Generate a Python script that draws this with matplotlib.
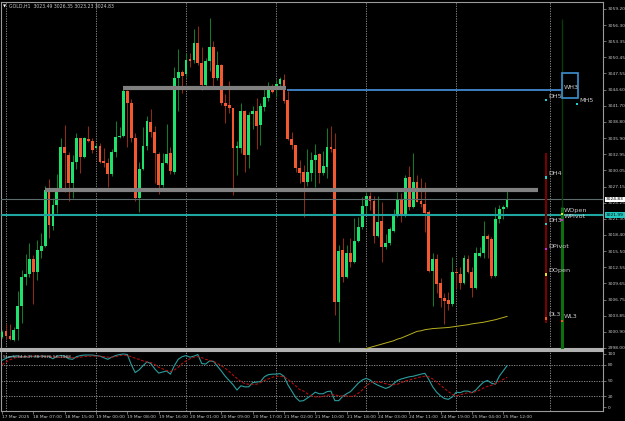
"""Recreate an MT4-style GOLD H1 candlestick chart with a Stochastic subpanel."""

import numpy as np
import matplotlib
matplotlib.use("Agg")
import matplotlib.pyplot as plt
import matplotlib.transforms as mtransforms
from matplotlib.patches import Rectangle

# --- Candle data (H1 bars, 17 Mar 22:00 .. 25 Mar 13:00) ---
opens = [
    3000.00, 3001.03, 3000.18, 2999.52, 3001.51, 3005.54, 3010.84, 3011.32, 3014.15, 3011.74,
    3015.54, 3016.38, 3026.62, 3020.06, 3023.90, 3026.80, 3034.20, 3032.81, 3027.82, 3031.62,
    3035.83, 3032.51, 3035.70, 3035.40, 3034.02, 3034.44, 3031.80, 3031.32, 3029.33, 3033.42,
    3036.07, 3036.25, 3044.44, 3042.15, 3035.83, 3025.11, 3030.23, 3034.44, 3038.84, 3037.03,
    3033.00, 3027.40, 3031.32, 3033.12, 3029.81, 3046.67, 3047.87, 3047.45, 3050.10, 3049.98,
    3053.11, 3049.50, 3045.46, 3049.80, 3052.33, 3046.79, 3049.08, 3042.15, 3041.79, 3041.37,
    3034.14, 3034.14, 3040.77, 3032.76, 3040.23, 3040.77, 3038.24, 3041.55, 3043.18, 3044.86,
    3044.74, 3045.65, 3046.37, 3042.75, 3035.77, 3034.57, 3030.47, 3029.75, 3027.95, 3029.63,
    3031.92, 3032.94, 3029.51, 3030.71, 3034.27, 3033.85, 3006.27, 3015.66, 3010.84, 3015.06,
    3013.56, 3017.35, 3019.76, 3023.61, 3025.48, 3024.57, 3018.19, 3020.84, 3016.14, 3016.87,
    3019.16, 3021.99, 3024.87, 3022.17, 3028.91, 3023.49, 3027.95, 3024.57, 3023.97, 3022.53,
    3011.93, 3013.98, 3009.77, 3006.94, 3006.64, 3005.85, 3011.75, 3011.27, 3009.77, 3014.04,
    3011.75, 3008.86, 3014.58, 3015.06, 3018.25, 3017.59, 3011.03, 3021.20, 3023.07, 3023.49,
]
highs = [
    3001.33, 3002.41, 3002.41, 3001.81, 3008.25, 3012.04, 3015.05, 3017.04, 3014.75, 3017.58,
    3018.79, 3027.22, 3028.43, 3024.99, 3029.39, 3035.83, 3038.24, 3033.42, 3032.81, 3036.85,
    3035.90, 3036.13, 3038.06, 3035.95, 3034.93, 3035.05, 3034.02, 3032.33, 3033.90, 3038.96,
    3037.94, 3044.74, 3044.50, 3042.87, 3036.85, 3031.62, 3037.94, 3039.87, 3041.13, 3038.06,
    3033.42, 3033.12, 3038.36, 3034.20, 3048.77, 3051.91, 3048.17, 3051.18, 3051.18, 3055.58,
    3056.12, 3052.27, 3050.28, 3057.50, 3053.47, 3051.60, 3049.20, 3043.84, 3046.19, 3041.40,
    3035.40, 3042.21, 3040.95, 3040.65, 3041.73, 3043.06, 3042.15, 3045.16, 3045.95, 3045.65,
    3046.37, 3046.85, 3047.45, 3044.44, 3036.97, 3034.63, 3031.92, 3031.02, 3033.96, 3033.30,
    3034.81, 3033.12, 3033.60, 3037.64, 3038.06, 3036.85, 3016.57, 3017.89, 3016.57, 3017.89,
    3021.38, 3021.69, 3025.30, 3026.20, 3026.20, 3025.42, 3025.42, 3024.39, 3018.56, 3019.76,
    3023.01, 3026.20, 3026.02, 3029.21, 3030.90, 3033.12, 3029.21, 3028.61, 3028.01, 3022.89,
    3015.06, 3014.88, 3010.55, 3007.84, 3008.14, 3014.34, 3012.35, 3012.66, 3014.76, 3014.76,
    3012.66, 3016.15, 3016.27, 3020.96, 3018.56, 3018.07, 3023.49, 3023.79, 3023.79, 3026.35,
]
lows = [
    2999.76, 2999.70, 2999.40, 2999.28, 2999.40, 3002.53, 3009.33, 3010.84, 3005.90, 3010.36,
    3014.33, 3016.14, 3017.88, 3019.28, 3022.41, 3026.50, 3026.20, 3024.51, 3024.99, 3030.23,
    3029.63, 3032.21, 3035.22, 3033.12, 3033.95, 3031.32, 3030.72, 3027.10, 3029.03, 3032.51,
    3035.83, 3036.13, 3034.33, 3035.22, 3024.57, 3022.59, 3030.11, 3033.72, 3036.13, 3027.71,
    3025.78, 3027.10, 3031.20, 3029.33, 3029.39, 3040.83, 3044.08, 3046.97, 3048.65, 3049.38,
    3049.08, 3044.56, 3045.28, 3047.99, 3045.16, 3046.37, 3041.85, 3038.54, 3040.47, 3025.54,
    3029.15, 3033.12, 3029.75, 3030.47, 3037.46, 3033.85, 3034.63, 3040.83, 3042.63, 3044.08,
    3043.36, 3045.16, 3042.15, 3035.53, 3033.85, 3029.81, 3027.71, 3021.56, 3027.22, 3028.13,
    3026.98, 3027.71, 3029.21, 3028.73, 3033.42, 3003.92, 2999.11, 3009.95, 3010.55, 3012.66,
    3013.26, 3017.05, 3019.46, 3021.99, 3022.89, 3016.87, 3018.07, 3013.56, 3015.78, 3016.57,
    3018.98, 3021.69, 3020.78, 3021.56, 3022.89, 3023.19, 3024.27, 3023.37, 3018.98, 3011.75,
    3005.61, 3007.84, 3005.43, 3002.30, 3004.83, 3005.55, 3008.74, 3008.56, 3009.53, 3011.45,
    3007.24, 3008.56, 3014.46, 3014.16, 3014.16, 3010.55, 3010.85, 3020.48, 3021.20, 3023.23,
]
closes = [
    3000.91, 3000.12, 2999.58, 3001.33, 3005.54, 3010.84, 3011.32, 3014.15, 3011.74, 3015.66,
    3016.38, 3026.50, 3020.18, 3023.90, 3026.80, 3034.20, 3033.12, 3027.82, 3031.50, 3035.83,
    3032.51, 3035.83, 3035.40, 3033.72, 3034.44, 3031.62, 3031.32, 3029.33, 3033.42, 3036.13,
    3036.25, 3044.44, 3042.27, 3035.83, 3024.99, 3030.23, 3034.44, 3038.96, 3037.03, 3033.24,
    3027.40, 3031.32, 3032.94, 3029.93, 3046.67, 3047.75, 3047.09, 3049.98, 3049.86, 3053.11,
    3049.38, 3045.46, 3049.80, 3052.33, 3046.79, 3049.08, 3042.15, 3041.67, 3041.25, 3034.14,
    3034.44, 3040.77, 3032.81, 3040.11, 3040.77, 3038.06, 3041.67, 3043.24, 3044.56, 3044.26,
    3045.65, 3046.49, 3042.63, 3035.77, 3034.57, 3030.41, 3029.63, 3028.01, 3029.75, 3031.92,
    3032.88, 3029.51, 3030.83, 3034.20, 3033.85, 3006.33, 3015.48, 3010.84, 3015.06, 3013.56,
    3017.35, 3019.76, 3023.61, 3025.48, 3024.57, 3018.19, 3020.72, 3016.14, 3016.87, 3019.46,
    3021.99, 3024.87, 3022.17, 3028.73, 3023.49, 3027.95, 3024.39, 3023.97, 3022.41, 3011.93,
    3013.98, 3009.53, 3006.94, 3006.52, 3005.85, 3011.75, 3011.45, 3009.77, 3014.16, 3011.75,
    3008.86, 3015.06, 3015.06, 3018.25, 3017.59, 3011.03, 3021.20, 3023.01, 3023.49, 3024.83,
]

# Moving average (starts at bar 93)
ma_start = 93
ma_values = [
    2997.9, 2998.1, 2998.3, 2998.5, 2998.7, 2998.9, 2999.1, 2999.3, 2999.6, 2999.8,
    3000.1, 3000.4, 3000.7, 3001.0, 3001.1, 3001.3, 3001.4, 3001.5, 3001.55, 3001.6,
    3001.65, 3001.7, 3001.8, 3001.9, 3002.0, 3002.1, 3002.2, 3002.35, 3002.45, 3002.55,
    3002.65, 3002.8, 3002.95, 3003.1, 3003.3, 3003.5, 3003.7,
]

# Stochastic(34,6,2)
stoch_main = [
    88, 92, 95, 96, 96, 95, 95, 96, 95, 95, 96, 95, 95, 91, 96, 97, 96, 91, 90, 95,
    97, 98, 98, 98, 97, 96, 93, 90, 94, 97, 99, 100, 99, 80, 65, 70, 78, 85, 82, 72,
    64, 66, 68, 62, 78, 90, 95, 97, 94, 96, 99, 82, 81, 87, 86, 77, 68, 58, 50, 42,
    32, 40, 38, 38, 46, 47, 48, 57, 61, 62, 62, 63, 58, 42, 30, 18, 11, 12, 17, 22,
    28, 25, 25, 29, 30, 12, 12, 20, 25, 29, 37, 45, 51, 54, 51, 45, 41, 38, 35, 38,
    44, 50, 53, 55, 57, 58, 60, 62, 63.5, 52, 38, 28, 21, 16, 14.5, 19, 28, 27, 30, 30,
    27, 32, 40, 47, 50, 45, 43, 58, 68, 78,
]
stoch_signal = [
    80, 85, 89, 92, 94, 95, 95, 95, 96, 96, 96, 95, 95, 95, 94, 94, 94, 94, 93, 93,
    94, 95, 96, 96, 96, 96, 95, 94, 94, 95, 97, 98, 97, 95, 92, 90, 87, 85, 84, 80,
    75, 72, 69, 67, 70, 75, 82, 87, 91, 94, 95, 93, 90, 88, 86, 82, 78, 73, 67, 60,
    54, 48, 44, 43, 43, 43, 46, 50, 53, 56, 58, 58, 57, 52, 46, 40, 33, 30, 25, 21,
    19, 19, 20, 22, 23, 23, 21, 21, 21, 20, 21, 26, 32, 40, 45, 48, 47, 46, 44, 42,
    42, 43, 46, 49, 51, 53, 55, 57, 58, 57, 53, 47, 41, 35, 29, 24, 21, 23, 25, 27,
    27, 29, 32, 36, 39, 41, 44, 48, 52, 56,
]

# Axis labels
price_ticks = [2998.00, 3000.90, 3003.85, 3006.75, 3009.65, 3012.55, 3015.50, 3018.40,
               3021.30, 3024.25, 3027.15, 3030.05, 3032.95, 3035.90, 3038.80, 3041.70,
               3044.60, 3047.55, 3050.45, 3053.35, 3056.30, 3059.20]
stoch_ticks = [0, 20, 50, 80, 100]
time_tick_bars = [0, 8, 16, 24, 32, 40, 48, 56, 64, 72, 80, 88, 96, 104, 112, 120, 128]
time_labels = ["17 Mar 2025", "18 Mar 07:00", "18 Mar 15:00", "19 Mar 00:00", "19 Mar 08:00",
               "19 Mar 16:00", "20 Mar 01:00", "20 Mar 09:00", "20 Mar 17:00", "21 Mar 02:00",
               "21 Mar 10:00", "21 Mar 18:00", "24 Mar 03:00", "24 Mar 11:00", "24 Mar 19:00",
               "25 Mar 04:00", "25 Mar 12:00"]
grid_bars = [1, 24, 47, 70, 93, 116, 140]

# Support/resistance zones (price, start bar, end bar)
zone_prices = [3044.95, 3026.58]
zone_start = [31, 11]
zone_end = [72.5, 137]
bid_price = 3024.83
week_open = 3021.99
wh3_price = 3044.6
wh3_start, wh3_end = 72.8, 143.0
wh3_box = (143.0, 3043.13, 147.2, 3047.64)

# Pivot labels
pivot_names = ["DH5", "MH5", "DH4", "WOpen", "WPivot", "DH3", "DPivot", "DOpen", "DL3", "WL3"]
pivot_text_x = [139.5, 147.5, 139.5, 143.6, 143.6, 139.5, 139.5, 139.5, 139.5, 143.6]
pivot_text_y = [3043.4, 3042.6, 3029.5, 3022.8, 3021.8, 3021.1, 3016.4, 3011.9, 3004.1, 3003.6]
pivot_dot_x = [139, 146.9, 139, 143, 143, 139, 139, 139, 139, 143]
pivot_dot_y = [3042.77, 3042.0, 3028.8, 3022.2, 3021.1, 3020.4, 3015.9, 3011.3, 3003.3, 3002.9]
pivot_dot_colors = ["#20d0d0", "#20d0d0", "#20d0d0", "#e8e020", "#e020e0", "#20d0d0",
                    "#e020e0", "#e8e020", "#ff5020", "#ff5020"]

# --- Styling ---
BULL = "#1de26c"
BEAR = "#f4582f"
WICK_UP = "#127a2a"
WICK_DN = "#8e2c12"
TXT = "#c8c8c8"
FRAME = "#9a9a9a"
GRID = "#9a9a9a"
AXFS = 3.2
W, H = 625, 421

fig = plt.figure(figsize=(W / 100, H / 100), dpi=100, facecolor="black")


def px_axes(x0, y0, x1, y1):
    return fig.add_axes([x0 / W, 1 - y1 / H, (x1 - x0) / W, (y1 - y0) / H], facecolor="black")


ax = px_axes(1.5, 1.7, 603, 348.7)
ax2 = px_axes(1.5, 351, 603, 410.7)

xlim = (-0.15, 153.5)

# --- Main panel ---
o, h, l, c = (np.array(a) for a in (opens, highs, lows, closes))
x = np.arange(len(o))
up = c >= o
body = np.maximum(np.abs(c - o), 0.12)
low_body = np.minimum(o, c)
ax.vlines(x[up], l[up], h[up], color=WICK_UP, lw=0.75, zorder=2)
ax.vlines(x[~up], l[~up], h[~up], color=WICK_DN, lw=0.75, zorder=2)
ax.bar(x[up], body[up], bottom=low_body[up], width=0.72, color=BULL, lw=0, zorder=3)
ax.bar(x[~up], body[~up], bottom=low_body[~up], width=0.72, color=BEAR, lw=0, zorder=3)

ax.plot(np.arange(ma_start, ma_start + len(ma_values)), ma_values, color="#b8b020", lw=0.7, zorder=4)

for g in grid_bars:
    ax.axvline(g, color=GRID, lw=0.6, ls=(0, (1.5, 1.5)), zorder=1)

for p, s, e in zip(zone_prices, zone_start, zone_end):
    ax.hlines(p, s, e, color="#808080", lw=3.0, zorder=5)

ax.axhline(bid_price, color="#5c6c6c", lw=0.8, zorder=4)
ax.axhline(week_open, color="#1fa6a0", lw=1.5, zorder=4)
ax.hlines(wh3_price, wh3_start, wh3_end, color="#3d7fc0", lw=1.4, zorder=4)
ax.add_patch(Rectangle((wh3_box[0], wh3_box[1]), wh3_box[2] - wh3_box[0], wh3_box[3] - wh3_box[1],
                       fill=False, ec="#3d8fd0", lw=1.2, zorder=6))
ax.text(143.6, 3045.1, "WH3", color=TXT, fontsize=4.6, va="center", ha="left", zorder=7)

# vertical pivot bars
ax.vlines(143.0, 3023.5, 3057.4, color="#0a3a0a", lw=1.0, zorder=4)
ax.vlines(143.0, 2997.9, 3023.5, color="#0a7010", lw=2.2, zorder=4)
ax.vlines(139.0, 3002.5, 3033.2, color="#7a0000", lw=1.5, zorder=4)

ax.scatter(pivot_dot_x, pivot_dot_y, s=3, marker="s", c=pivot_dot_colors, lw=0, zorder=8)
for name, tx, ty in zip(pivot_names, pivot_text_x, pivot_text_y):
    ax.text(tx, ty, name, color=TXT, fontsize=4.6, va="center", ha="left", zorder=7)

ax.set_xlim(*xlim)
ax.set_ylim(2997.87, 3060.51)
ax.set_xticks([])
ax.yaxis.tick_right()
ax.set_yticks(price_ticks)
ax.set_yticklabels([f"{t:.2f}" for t in price_ticks])
ax.tick_params(axis="y", colors=FRAME, labelcolor=TXT, labelsize=AXFS, length=2, width=0.5, pad=1.5)

# price boxes on the axis
trans = mtransforms.blended_transform_factory(ax.transAxes, ax.transData)
ax.text(1.005, bid_price, f"{bid_price:.2f}", transform=trans, fontsize=AXFS, color="black",
        va="center", ha="left", zorder=10,
        bbox=dict(fc="white", ec="none", pad=0.6), clip_on=False)
ax.text(1.005, week_open, f"{week_open:.2f}", transform=trans, fontsize=AXFS, color="black",
        va="center", ha="left", zorder=10,
        bbox=dict(fc="#20c8c0", ec="none", pad=0.6), clip_on=False)

ax.text(0.002, 0.993, "\u25bc", transform=ax.transAxes, color="white", fontsize=3, va="top", ha="left")
ax.text(0.012, 0.994, "GOLD,H1  3023.49 3026.35 3023.23 3024.83", transform=ax.transAxes,
        color=TXT, fontsize=3.3, va="top", ha="left")

for side in ["left", "top", "right"]:
    ax.spines[side].set_color(FRAME)
    ax.spines[side].set_linewidth(0.8)
ax.spines["bottom"].set_color("#b0b0b0")
ax.spines["bottom"].set_linewidth(1.5)

# --- Stochastic panel ---
ax2.plot(x, stoch_main, color="#2a9e9e", lw=0.8, zorder=3)
ax2.plot(x, stoch_signal, color="#b01010", lw=0.8, ls=(0, (2.5, 1.5)), zorder=3)
for lvl in [20, 50, 80]:
    ax2.axhline(lvl, color=GRID, lw=0.6, ls=(0, (1.5, 1.5)), zorder=1)
for g in grid_bars:
    ax2.axvline(g, color=GRID, lw=0.6, ls=(0, (1.5, 1.5)), zorder=1)

ax2.text(0.003, 0.93, "Stoch(34,6,2) 78.3976 56.1988", transform=ax2.transAxes,
         color=TXT, fontsize=3.2, va="top", ha="left")

ax2.set_xlim(*xlim)
ax2.set_ylim(-6.98, 105.66)
ax2.yaxis.tick_right()
ax2.set_yticks(stoch_ticks)
ax2.set_yticklabels([str(t) for t in stoch_ticks])
ax2.tick_params(axis="y", colors=FRAME, labelcolor=TXT, labelsize=AXFS, length=2, width=0.5, pad=1.5)
ax2.set_xticks(time_tick_bars)
ax2.set_xticklabels(time_labels, ha="left")
ax2.tick_params(axis="x", colors=FRAME, labelcolor=TXT, labelsize=AXFS, length=2, width=0.5, pad=1)

for side in ["left", "bottom", "right"]:
    ax2.spines[side].set_color(FRAME)
    ax2.spines[side].set_linewidth(0.8)
ax2.spines["top"].set_color("#b0b0b0")
ax2.spines["top"].set_linewidth(1.5)

fig.savefig("out.png", dpi=100, facecolor="black")
